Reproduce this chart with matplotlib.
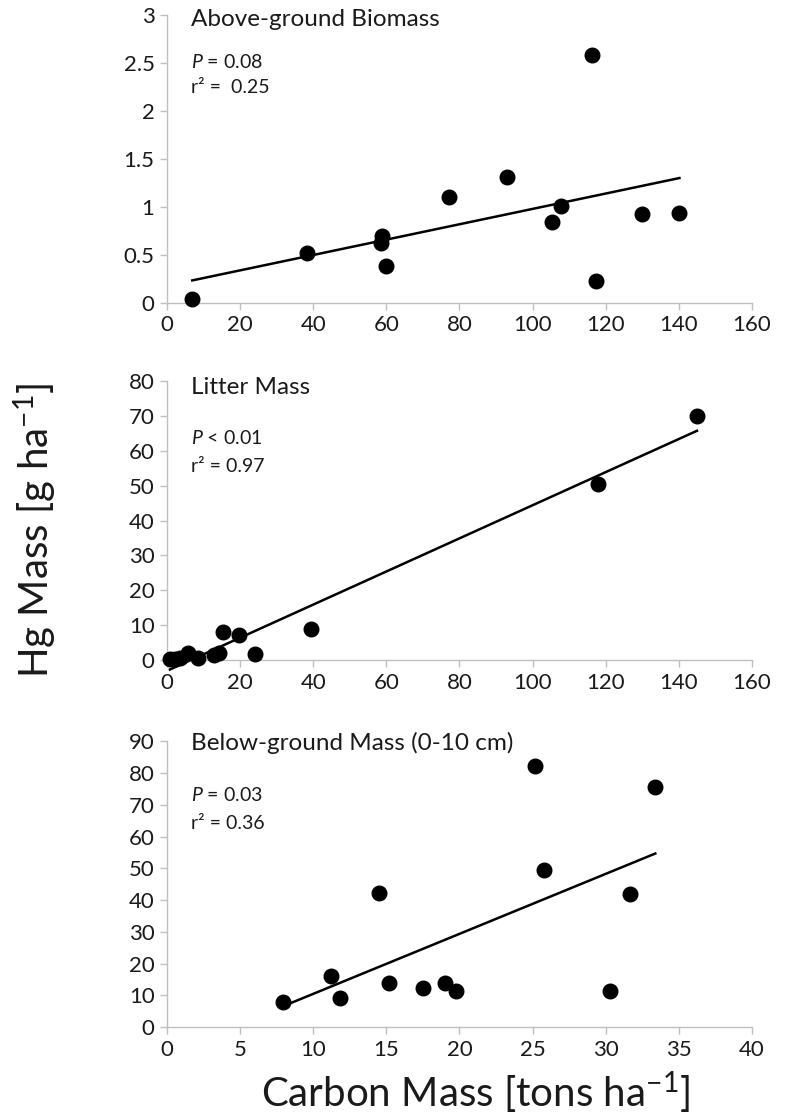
import matplotlib
matplotlib.use("Agg")
import matplotlib.pyplot as plt
import numpy as np

plt.rcParams['font.family'] = ['Lato', 'DejaVu Sans']
plt.rcParams['mathtext.fontset'] = 'custom'
plt.rcParams['mathtext.rm'] = 'Lato'
plt.rcParams['mathtext.it'] = 'Lato:italic'
plt.rcParams['mathtext.default'] = 'regular'

# Above-ground biomass
above_c = [6.9, 38.3, 58.9, 58.6, 60.0, 77.1, 93.0, 105.3, 107.9, 116.2, 117.3, 130.0, 140.2]
above_hg = [0.04, 0.52, 0.70, 0.63, 0.39, 1.10, 1.31, 0.84, 1.01, 2.58, 0.23, 0.93, 0.94]

# Litter
litter_c = [0.8, 2.2, 3.5, 5.8, 8.5, 12.8, 14.3, 15.3, 19.7, 24.0, 39.3, 117.8, 145.0]
litter_hg = [0.3, 0.2, 0.6, 2.0, 0.7, 1.5, 2.0, 8.0, 7.3, 1.8, 8.8, 50.6, 70.0]

# Below-ground (0-10 cm)
below_c = [7.9, 11.2, 11.8, 14.5, 15.2, 17.5, 19.0, 19.8, 25.2, 25.8, 30.3, 31.7, 33.4]
below_hg = [8.0, 16.2, 9.2, 42.3, 13.8, 12.4, 13.8, 11.5, 82.3, 49.4, 11.5, 41.8, 75.6]

titles = ['Above-ground Biomass', 'Litter Mass', 'Below-ground Mass (0-10 cm)']
p_texts = [r'$\it{P}$ = 0.08', r'$\it{P}$ < 0.01', r'$\it{P}$ = 0.03']
r_texts = ['r² =  0.25', 'r² = 0.97', 'r² = 0.36']

xlims = [(0, 160), (0, 160), (0, 40)]
xticks = [np.arange(0, 161, 20), np.arange(0, 161, 20), np.arange(0, 41, 5)]
ylims = [(0, 3), (0, 80), (0, 90)]
yticks = [[0, 0.5, 1, 1.5, 2, 2.5, 3], np.arange(0, 81, 10), np.arange(0, 91, 10)]
ytick_labels = [['0', '0.5', '1', '1.5', '2', '2.5', '3'], None, None]

fig = plt.figure(figsize=(7.86, 11.16), dpi=100)
rects = [
    [0.2125, 0.7285, 0.744, 0.258],
    [0.2125, 0.4086, 0.744, 0.250],
    [0.2125, 0.0797, 0.744, 0.256],
]
text_y = [(0.983, 0.837, 0.747), (0.975, 0.796, 0.692), (0.993, 0.811, 0.713)]

data = [(above_c, above_hg), (litter_c, litter_hg), (below_c, below_hg)]
grey = '#bfbfbf'
ink = '#1a1a1a'

for i, (xs, ys) in enumerate(data):
    ax = fig.add_axes(rects[i])
    xs = np.array(xs)
    ys = np.array(ys)
    ax.scatter(xs, ys, s=110, color='black', zorder=3, clip_on=False)
    k, b = np.polyfit(xs, ys, 1)
    xl = np.array([xs.min(), xs.max()])
    ax.plot(xl, k * xl + b, color='black', lw=1.8, zorder=2, clip_on=False)

    ax.set_xlim(*xlims[i])
    ax.set_ylim(*ylims[i])
    ax.set_xticks(xticks[i])
    ax.set_yticks(yticks[i])
    if ytick_labels[i] is not None:
        ax.set_yticklabels(ytick_labels[i])
    for s in ['top', 'right']:
        ax.spines[s].set_visible(False)
    for s in ['left', 'bottom']:
        ax.spines[s].set_color(grey)
        ax.spines[s].set_linewidth(1.0)
    ax.tick_params(direction='out', length=5, width=1, color=grey,
                   labelsize=16, labelcolor=ink, pad=4)

    ty, py, ry = text_y[i]
    ax.text(0.041, ty, titles[i], transform=ax.transAxes, fontsize=17.5,
            va='center', ha='left', color=ink)
    ax.text(0.041, py, p_texts[i], transform=ax.transAxes, fontsize=14,
            va='center', ha='left', color=ink)
    ax.text(0.041, ry, r_texts[i], transform=ax.transAxes, fontsize=14,
            va='center', ha='left', color=ink)

fig.text(0.605, 0.021, r'Carbon Mass [tons ha$^{-1}$]', fontsize=29,
         ha='center', va='center', color=ink)
fig.text(0.045, 0.525, r'Hg Mass [g ha$^{-1}$]', fontsize=29, rotation=90,
         ha='center', va='center', color=ink)

fig.savefig('out.png', dpi=100)
